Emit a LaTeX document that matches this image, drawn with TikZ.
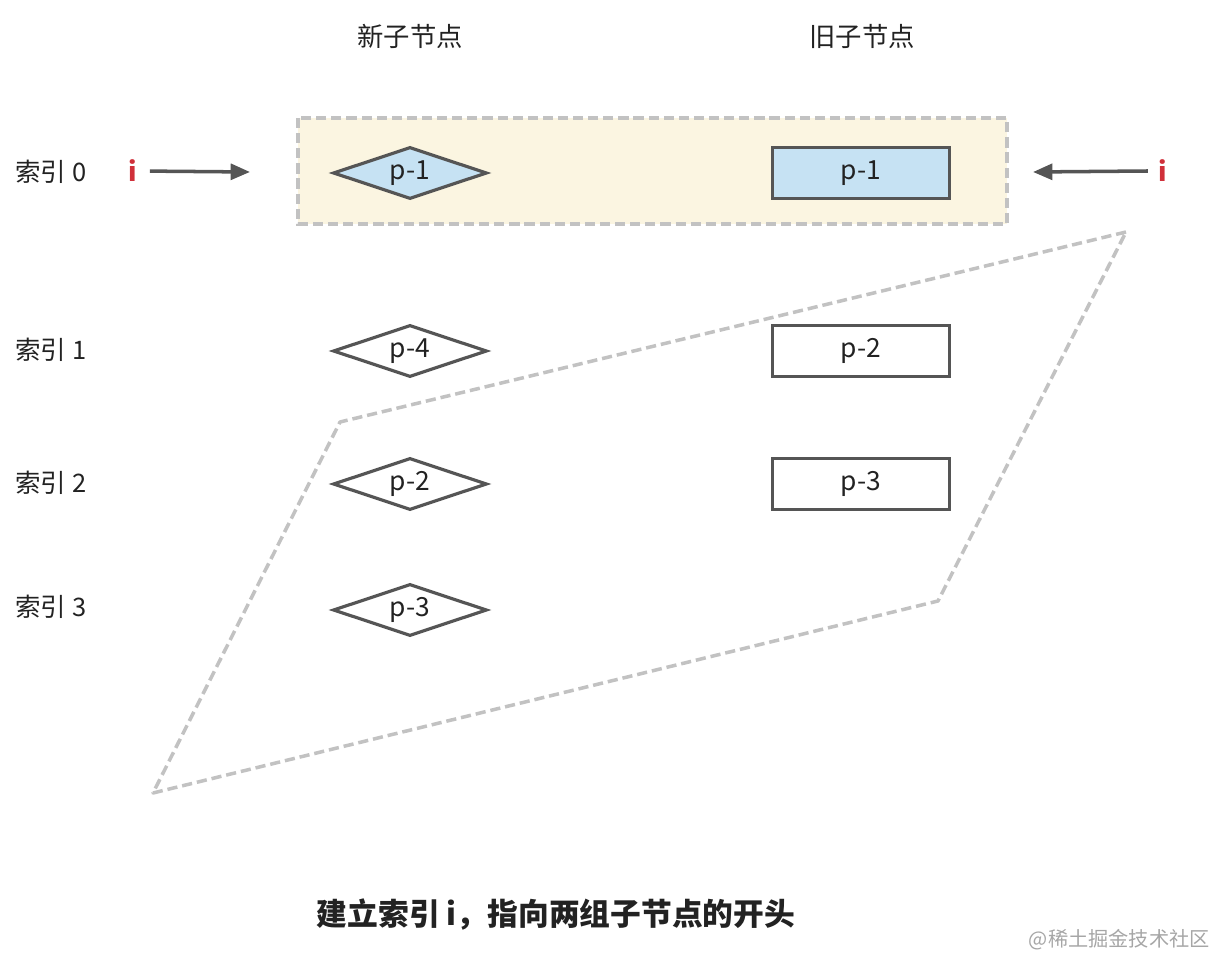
\documentclass[tikz,border=0pt]{standalone}
\usepackage{fontspec}
\setmainfont{Noto Sans CJK SC}
\usetikzlibrary{arrows.meta,positioning,shapes.geometric}
\definecolor{NodeBlue}{HTML}{C6E2F3}
\definecolor{Cream}{HTML}{FBF5E1}
\definecolor{EdgeGray}{HTML}{555555}
\definecolor{FrameGray}{HTML}{C2C2C2}
\definecolor{PtrRed}{HTML}{D0303A}
\definecolor{InkDark}{HTML}{222222}

\begin{document}
\begin{tikzpicture}[x=0.02cm,y=-0.02cm,
  newnode/.style={diamond,aspect=3,draw=EdgeGray,fill=white,line width=1.8pt,minimum width=3.08cm,minimum height=1.04cm,inner sep=0pt,font=\fontsize{15pt}{18pt}\selectfont,text=InkDark},
  oldnode/.style={rectangle,draw=EdgeGray,fill=white,line width=1.8pt,minimum width=3.54cm,minimum height=1.02cm,inner sep=0pt,font=\fontsize{15pt}{18pt}\selectfont,text=InkDark},
  current/.style={fill=NodeBlue},
  idxlabel/.style={anchor=west,inner sep=0pt,font=\fontsize{14.5pt}{17pt}\selectfont,text=InkDark},
  header/.style={inner sep=0pt,font=\fontsize{15pt}{18pt}\selectfont,text=InkDark},
  ptr/.style={inner sep=0pt,font=\fontsize{15pt}{18pt}\selectfont\bfseries,text=PtrRed},
  pointer/.style={-{Triangle[length=11pt,width=9pt]},EdgeGray,line width=2pt},
  rowbox/.style={draw=FrameGray,fill=Cream,line width=2pt,dash pattern=on 5.8pt off 2.8pt},
  scanframe/.style={draw=FrameGray,line width=2pt,dash pattern=on 5.8pt off 2.8pt,line join=round}]
  \useasboundingbox (0,0) rectangle (1216,955);
  % row 0 is the pair that the two pointers start from
  \draw[rowbox] (298,118) rectangle (1007,224);
  \draw[scanframe] (1126,232) -- (340,422) -- (153,793) -- (938,601) -- cycle;

  \node[header] (newhead) at (410,36) {新子节点};
  \node[header] (oldhead) at (862,36) {旧子节点};

  \foreach \k/\y in {0/172,1/350,2/483,3/607}{
    \node[idxlabel] (idx\k) at (15,\y) {索引 \k};
  }

  \node[newnode,current] (new0) at (410,173) {p-1};
  \foreach \k/\t/\y in {1/4/351,2/2/484,3/3/610}{
    \node[newnode] (new\k) at (410,\y) {p-\t};
  }
  \node[oldnode,current] (old0) at (861,173) {p-1};
  \foreach \k/\t/\y in {1/2/351,2/3/484}{
    \node[oldnode] (old\k) at (861,\y) {p-\t};
  }

  \node[ptr] (inew) at (133,171) {i};
  \node[ptr] (iold) at (1163,171) {i};
  \coordinate (tipnew) at (250,172);
  \coordinate (tipold) at (1033,172);
  \draw[pointer,shorten <=7pt] (inew.east) -- (tipnew);
  \draw[pointer] ([xshift=-6pt]iold.west) -- (tipold);

  \node[inner sep=0pt,font=\fontsize{17.5pt}{21pt}\selectfont\bfseries,text=InkDark] (caption) at (556,915) {建立索引 i，指向两组子节点的开头};
  \node[anchor=east,inner sep=0pt,font=\fontsize{11.5pt}{14pt}\selectfont,text=black!35] (mark) at (1210,940) {@稀土掘金技术社区};
\end{tikzpicture}
\end{document}
